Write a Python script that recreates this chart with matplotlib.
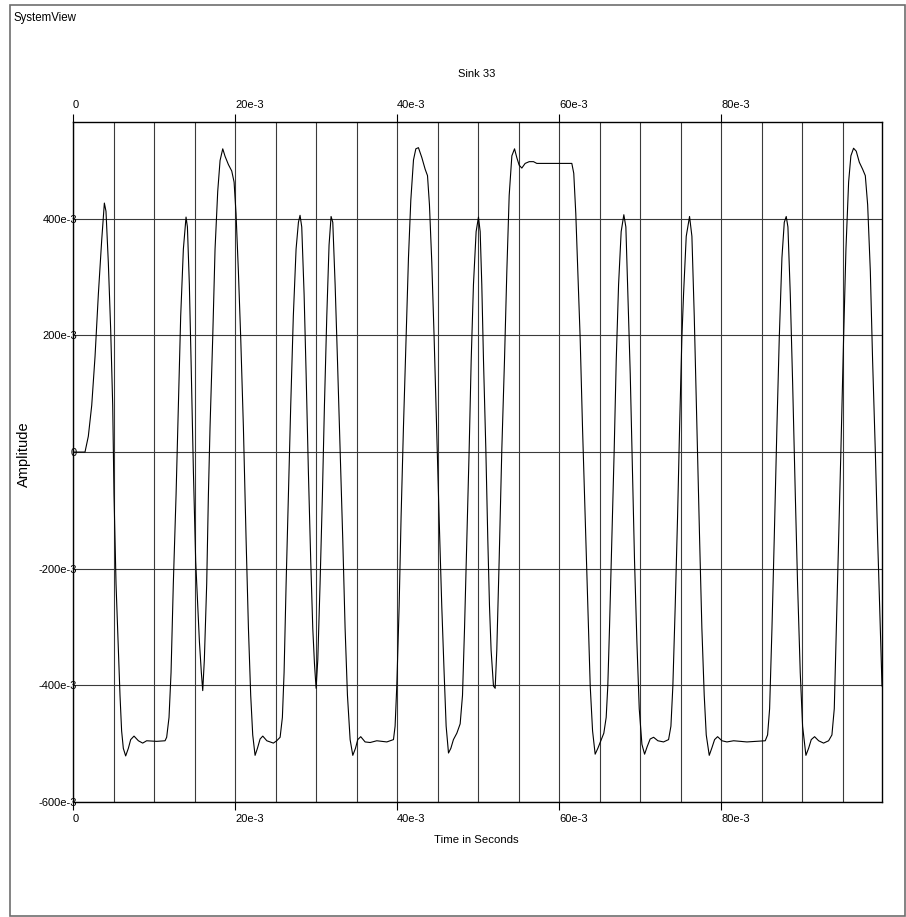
import numpy as np
import matplotlib
matplotlib.use('Agg')
import matplotlib.pyplot as plt
from matplotlib.patches import Rectangle

plt.rcParams['font.family'] = ['Liberation Sans', 'DejaVu Sans']

# Sink 33 trace (time in ms, amplitude in V)
t_ms_1 = [0, 1.48, 1.89, 2.31, 2.72, 3.13, 3.54, 3.87, 4.07, 4.36, 4.65, 4.9, 5.06, 5.31, 5.6, 5.8,
          6.0, 6.21, 6.5, 6.83, 7.12, 7.53, 8.07, 8.6, 9.09, 10.33, 11.36, 11.56, 11.85, 12.1, 12.38,
          12.72, 13.0, 13.29, 13.62, 13.95, 14.12, 14.36, 14.57, 14.86, 15.14, 15.39, 15.6, 15.84,
          16.01, 16.21, 16.5, 16.71, 16.91, 17.24, 17.53, 17.86, 18.15, 18.48, 18.77, 19.18, 19.59,
          19.88, 20.12, 20.41, 20.7, 21.03, 21.36, 21.65, 21.93, 22.18, 22.47, 22.76, 23.09, 23.42,
          23.92, 24.73]
amp_1 = [0, 0.0, 0.027, 0.08, 0.164, 0.271, 0.363, 0.427, 0.413, 0.325, 0.21, 0.08, -0.073, -0.226,
         -0.34, -0.417, -0.478, -0.508, -0.521, -0.508, -0.493, -0.487, -0.495, -0.499, -0.495,
         -0.496, -0.495, -0.489, -0.455, -0.378, -0.226, -0.073, 0.08, 0.233, 0.348, 0.403, 0.386,
         0.287, 0.157, -0.034, -0.187, -0.264, -0.325, -0.378, -0.409, -0.356, -0.226, -0.073,
         0.042, 0.195, 0.348, 0.447, 0.5, 0.52, 0.507, 0.493, 0.482, 0.463, 0.409, 0.31, 0.195,
         0.042, -0.149, -0.302, -0.417, -0.485, -0.52, -0.508, -0.492, -0.487, -0.495, -0.499]

t_ms_2 = [25.14, 25.56, 25.84, 26.05, 26.3, 26.58, 26.87, 27.19, 27.53, 27.82, 28.02, 28.23, 28.52,
          28.77, 29.05, 29.34, 29.59, 29.8, 30.0, 30.21, 30.49, 30.78, 31.03, 31.32, 31.6, 31.85,
          32.06, 32.35, 32.64, 32.96, 33.29, 33.58, 33.87, 34.2, 34.53, 34.86, 35.14, 35.51, 36.05,
          36.67, 37.49, 38.73, 39.55, 39.75, 39.96, 40.25, 40.49, 40.78, 41.11, 41.4, 41.69, 42.02,
          42.31, 42.63, 43.05, 43.46, 43.75, 43.99, 44.28, 44.57, 44.9, 45.18, 45.51, 45.8, 46.05,
          46.34, 46.63, 46.95, 47.37, 47.78, 48.07, 48.32, 48.6, 48.89, 49.14, 49.42, 49.75, 50.04]
amp_2 = [-0.495, -0.489, -0.455, -0.378, -0.226, -0.073, 0.08, 0.233, 0.348, 0.394, 0.406, 0.386,
         0.271, 0.134, -0.034, -0.187, -0.302, -0.363, -0.405, -0.356, -0.226, -0.073, 0.08, 0.233,
         0.355, 0.404, 0.394, 0.287, 0.157, 0.004, -0.149, -0.302, -0.417, -0.493, -0.52, -0.508,
         -0.493, -0.488, -0.497, -0.498, -0.495, -0.497, -0.493, -0.47, -0.401, -0.264, -0.111,
         0.042, 0.195, 0.333, 0.432, 0.501, 0.52, 0.522, 0.505, 0.485, 0.474, 0.424, 0.325, 0.195,
         0.027, -0.111, -0.264, -0.378, -0.47, -0.516, -0.508, -0.493, -0.482, -0.466, -0.417,
         -0.302, -0.149, 0.004, 0.157, 0.287, 0.378, 0.403]

t_ms_3 = [50.25, 50.45, 50.66, 50.95, 51.19, 51.4, 51.6, 51.89, 52.1, 52.3, 52.59, 52.92, 53.25,
          53.54, 53.83, 54.16, 54.49, 54.77, 55.06, 55.39, 55.8, 56.3, 56.83, 57.24, 59.1, 61.56,
          61.8, 62.05, 62.3, 62.59, 62.88, 63.21, 63.54, 63.83, 64.12, 64.44, 64.77, 65.19, 65.51,
          65.8, 66.0, 66.21, 66.5, 66.79, 67.04, 67.33, 67.65, 67.98, 68.23, 68.48, 68.77, 69.05,
          69.3, 69.59, 69.88, 70.21, 70.54, 70.86, 71.23, 71.65, 72.18, 72.88, 73.5, 73.79, 74.03,
          74.32, 74.61, 74.86, 75.14]
amp_3 = [0.378, 0.287, 0.157, 0.004, -0.149, -0.264, -0.34, -0.401, -0.405, -0.34, -0.187, 0.004,
         0.157, 0.31, 0.44, 0.508, 0.52, 0.505, 0.492, 0.487, 0.495, 0.498, 0.498, 0.495, 0.495,
         0.495, 0.478, 0.409, 0.31, 0.195, 0.042, -0.111, -0.264, -0.401, -0.478, -0.518, -0.508,
         -0.493, -0.482, -0.455, -0.401, -0.302, -0.149, 0.004, 0.157, 0.287, 0.378, 0.407, 0.386,
         0.271, 0.134, -0.034, -0.187, -0.325, -0.44, -0.501, -0.518, -0.505, -0.492, -0.489,
         -0.495, -0.497, -0.493, -0.47, -0.401, -0.264, -0.111, 0.042, 0.195]

t_ms_4 = [75.35, 75.68, 76.09, 76.38, 76.67, 77.0, 77.33, 77.61, 77.9, 78.15, 78.52, 78.85, 79.18,
          79.55, 80.09, 80.7, 81.53, 83.17, 85.43, 85.72, 85.97, 86.26, 86.54, 86.87, 87.16, 87.49,
          87.78, 88.02, 88.23, 88.52, 88.81, 89.14, 89.42, 89.75, 90.04, 90.45, 90.78, 91.11, 91.52,
          92.02, 92.63, 93.25, 93.66, 93.95, 94.2, 94.49, 94.77, 95.1, 95.39, 95.72, 96.0, 96.33,
          96.66, 97.04, 97.45, 97.78, 98.07, 98.4, 98.68, 99.01, 99.3, 99.55, 99.75, 99.84]
amp_4 = [0.271, 0.37, 0.404, 0.37, 0.233, 0.042, -0.149, -0.302, -0.417, -0.485, -0.52, -0.507,
         -0.493, -0.488, -0.495, -0.497, -0.495, -0.497, -0.495, -0.485, -0.44, -0.302, -0.149,
         0.042, 0.195, 0.333, 0.394, 0.404, 0.386, 0.271, 0.119, -0.073, -0.226, -0.378, -0.47,
         -0.52, -0.508, -0.493, -0.488, -0.495, -0.499, -0.495, -0.485, -0.44, -0.302, -0.149,
         0.004, 0.195, 0.348, 0.463, 0.508, 0.521, 0.516, 0.497, 0.485, 0.474, 0.424, 0.31, 0.157,
         0.004, -0.149, -0.264, -0.363, -0.401]

xtick_vals = [0, 0.02, 0.04, 0.06, 0.08]
xtick_labels = ['0', '20e-3', '40e-3', '60e-3', '80e-3']
ytick_vals = [-0.6, -0.4, -0.2, 0, 0.2, 0.4]
ytick_labels = ['-600e-3', '-400e-3', '-200e-3', '0', '200e-3', '400e-3']

t = np.array(t_ms_1 + t_ms_2 + t_ms_3 + t_ms_4) * 1e-3
amp = np.array(amp_1 + amp_2 + amp_3 + amp_4)

W, H = 906, 917
fig = plt.figure(figsize=(W / 100, H / 100), dpi=100)
ax = fig.add_axes([73 / W, 1 - 802 / H, (882 - 73) / W, (802 - 122) / H])

ax.plot(t, amp, color='black', lw=0.8)

ax.set_xlim(0, 0.09984)
ax.set_ylim(-0.6, 0.566)

ax.set_xticks(xtick_vals, labels=xtick_labels)
ax.set_xticks(np.arange(0, 0.0999, 0.005), minor=True)
ax.set_yticks(ytick_vals, labels=ytick_labels)

ax.grid(which='both', axis='x', color='#3a3a3a', lw=0.8)
ax.grid(which='major', axis='y', color='#3a3a3a', lw=0.8)

ax.tick_params(axis='x', which='major', top=True, labeltop=True, bottom=True, labelbottom=True,
               direction='out', length=6, width=0.8, pad=3, labelsize=8)
ax.tick_params(axis='x', which='minor', length=0)
ax.tick_params(axis='y', length=0, pad=-3, labelsize=8)
for tk in ax.xaxis.get_major_ticks():
    tk.label1.set_ha('left')
    tk.label2.set_ha('left')

for sp in ax.spines.values():
    sp.set_linewidth(1.0)

fig.text(13 / W, 1 - 18 / H, 'SystemView', fontsize=8.3, ha='left', va='center')
fig.text(477 / W, 1 - 74 / H, 'Sink 33', fontsize=8, ha='center', va='center')
fig.text(476 / W, 1 - 840 / H, 'Time in Seconds', fontsize=8.2, ha='center', va='center')
fig.text(24 / W, 1 - 454 / H, 'Amplitude', fontsize=10.5, ha='center', va='center', rotation=90)

fig.patches.append(Rectangle((10 / W, 1 - 916 / H), (905 - 10) / W, (916 - 5) / H,
                             transform=fig.transFigure, fill=False, ec='#6e6e6e', lw=1.2))

fig.savefig('out.png', dpi=100)
